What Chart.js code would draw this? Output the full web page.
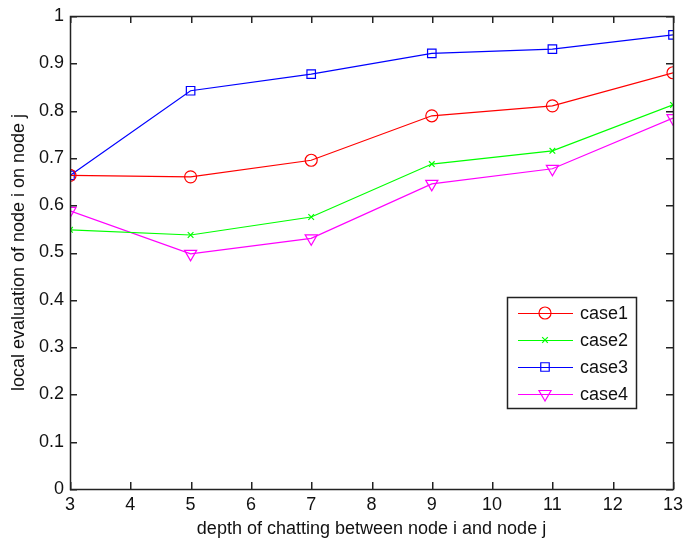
<!DOCTYPE html>
<html>
<head>
<meta charset="utf-8">
<script src="https://cdn.jsdelivr.net/npm/chart.js@4"></script>
<style>
  html, body { margin: 0; padding: 0; background: #fff; }
  #wrap { width: 684px; height: 540px; }
</style>
</head>
<body>
<div id="wrap"><canvas id="myChart" width="684" height="540"></canvas></div>
<script>
const depths = [3, 5, 7, 9, 11, 13];
const case1 = [0.663, 0.660, 0.695, 0.789, 0.810, 0.880];
const case2 = [0.548, 0.537, 0.575, 0.687, 0.715, 0.812];
const case3 = [0.663, 0.842, 0.877, 0.921, 0.930, 0.960];
const case4 = [0.588, 0.497, 0.530, 0.645, 0.677, 0.784];
const seriesNames = ["case1", "case2", "case3", "case4"];
const xTicks = [3, 4, 5, 6, 7, 8, 9, 10, 11, 12, 13];
const yTicks = [0, 0.1, 0.2, 0.3, 0.4, 0.5, 0.6, 0.7, 0.8, 0.9, 1];

const FONT = "'Liberation Sans', Arial, sans-serif";

const toPoints = (vals) => depths.map((d, i) => ({ x: d, y: vals[i] }));

// box around the plot with inward ticks on all four sides (matlab style)
const boxPlugin = {
  id: "boxTicks",
  afterDraw(chart) {
    const ctx = chart.ctx;
    const a = chart.chartArea;
    const len = 7;
    const L = Math.round(a.left), R = Math.round(a.right);
    const T = Math.round(a.top), B = Math.round(a.bottom);
    const sx = chart.scales.x, sy = chart.scales.y;
    // pixel positions from the scales (fall back to linear mapping)
    const xPix = (v) => {
      const p = sx.getPixelForValue(v);
      return isFinite(p) ? p : L + (v - sx.min) / (sx.max - sx.min) * (R - L);
    };
    const yPix = (v) => {
      const p = sy.getPixelForValue(v);
      return isFinite(p) ? p : B - (v - sy.min) / (sy.max - sy.min) * (B - T);
    };
    ctx.save();
    ctx.lineWidth = 1.5;
    ctx.strokeStyle = "#222";
    ctx.strokeRect(L + 0.5, T + 0.5, R - L, B - T);
    ctx.fillStyle = "#222";
    xTicks.forEach((t) => {
      const px = Math.round(xPix(t));
      ctx.fillRect(px, B - len, 1.5, len);
      ctx.fillRect(px, T, 1.5, len);
    });
    yTicks.forEach((t) => {
      const py = Math.round(yPix(t));
      ctx.fillRect(L, py, len, 1.5);
      ctx.fillRect(R - len, py, len, 1.5);
    });
    ctx.restore();
  }
};

// legend box drawn inside the plot area, lower right
const legendPlugin = {
  id: "insideLegend",
  afterDraw(chart) {
    const { ctx } = chart;
    const bx = 507, by = 297, bw = 129, bh = 111;
    ctx.save();
    ctx.fillStyle = "#fff";
    ctx.fillRect(bx, by, bw, bh);
    ctx.strokeStyle = "#222";
    ctx.lineWidth = 1.5;
    ctx.strokeRect(bx + 0.5, by + 0.5, bw, bh);
    chart.data.datasets.forEach((ds, i) => {
      const y = by + 16 + i * 27;
      ctx.strokeStyle = ds.borderColor;
      ctx.lineWidth = 1.2;
      ctx.beginPath();
      ctx.moveTo(bx + 11, y + 0.5);
      ctx.lineTo(bx + 66, y + 0.5);
      ctx.stroke();
      ctx.fillStyle = "rgba(0,0,0,0)";
      Chart.helpers.drawPoint(ctx, {
        pointStyle: ds.pointStyle,
        radius: ds.pointRadius,
        rotation: ds.pointRotation || 0,
        borderWidth: 1.2
      }, bx + 38, y);
      ctx.fillStyle = "#111";
      ctx.font = "18px " + FONT;
      ctx.textBaseline = "middle";
      ctx.fillText(ds.label, bx + 73, y + 1);
    });
    ctx.restore();
  }
};

const mkSet = (label, data, color, style, radius, rot) => ({
  label: label,
  data: toPoints(data),
  borderColor: color,
  backgroundColor: "rgba(0,0,0,0)",
  pointBorderColor: color,
  pointBackgroundColor: "rgba(0,0,0,0)",
  borderWidth: 1.2,
  pointStyle: style,
  pointRadius: radius,
  pointBorderWidth: 1.2,
  pointRotation: rot || 0,
  tension: 0,
  fill: false
});

const tickFont = { family: FONT, size: 18 };

const ctx = document.getElementById("myChart").getContext("2d");
new Chart(ctx, {
  type: "line",
  data: {
    datasets: [
      mkSet(seriesNames[0], case1, "#ff0000", "circle", 6),
      mkSet(seriesNames[1], case2, "#00ff00", "crossRot", 4),
      mkSet(seriesNames[2], case3, "#0000ff", "rect", 6),
      mkSet(seriesNames[3], case4, "#ff00ff", "triangle", 7, 180)
    ]
  },
  options: {
    responsive: false,
    animation: false,
    events: [],
    layout: { padding: { left: 0, right: 11, top: 16, bottom: 0 } },
    plugins: { legend: { display: false }, tooltip: { enabled: false } },
    scales: {
      x: {
        type: "linear",
        min: 3,
        max: 13,
        afterBuildTicks: (s) => { s.ticks = xTicks.map((v) => ({ value: v })); },
        afterFit: (s) => {
          s.height = 51;
          s.paddingLeft = 0;
          s.paddingRight = 0;
        },
        grid: { display: false, drawTicks: false },
        border: { display: false },
        ticks: {
          color: "#111", padding: 5, autoSkip: false, maxRotation: 0,
          font: tickFont, callback: (v) => String(v)
        },
        title: {
          display: true,
          text: "depth of chatting between node i and node j",
          color: "#111",
          padding: { top: 0, bottom: 0 },
          font: tickFont
        }
      },
      y: {
        min: 0,
        max: 1,
        afterBuildTicks: (s) => { s.ticks = yTicks.map((v) => ({ value: v })); },
        afterFit: (s) => {
          s.width = 70;
          s.paddingTop = 0;
          s.paddingBottom = 0;
        },
        grid: { display: false, drawTicks: false },
        border: { display: false },
        ticks: {
          color: "#111", padding: 6, autoSkip: false,
          font: tickFont, callback: (v) => String(Math.round(v * 10) / 10)
        },
        title: {
          display: true,
          text: "local evaluation of node i on node j",
          color: "#111",
          padding: { top: 8, bottom: 0 },
          font: tickFont
        }
      }
    }
  },
  plugins: [boxPlugin, legendPlugin]
});
</script>
</body>
</html>
